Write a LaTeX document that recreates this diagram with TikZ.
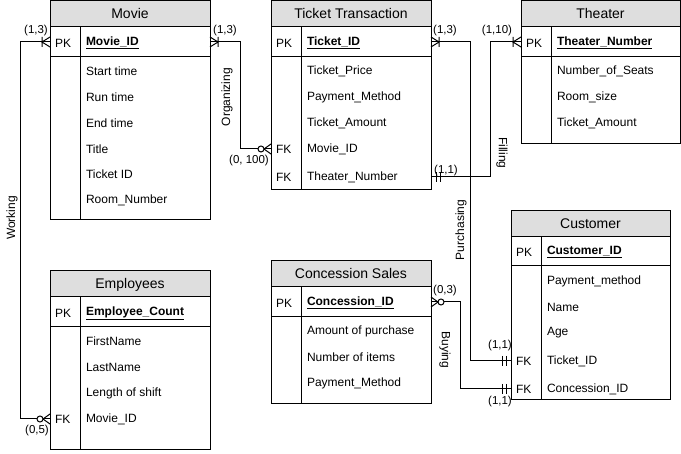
\documentclass[tikz,border=0pt]{standalone}
\usepackage{fontspec}
\setmainfont{Liberation Sans}
\begin{document}
\begin{tikzpicture}[x=1pt, y=-1pt, line width=1pt,
  every node/.style={inner sep=0pt, outer sep=0pt, font=\fontsize{12}{14}\selectfont},
  box/.style={draw, anchor=north west, minimum width=160pt},
  head/.style={box, fill=black!13, minimum height=26pt, text height=10pt, text depth=1pt, font=\fontsize{14}{16}\selectfont},
  attr/.style={anchor=west, yshift=-1pt},
  card/.style={font=\fontsize{11.5}{13}\selectfont},
  onemany/.pic={\draw (0,-5) -- (-8,0) -- (0,5) (-8,-5) -- (-8,5);},
  zeromany/.pic={\draw (0,-5) -- (-7,0) -- (0,5); \draw[fill=white] (-10,0) circle (3);},
  oneone/.pic={\draw (-5,-5) -- (-5,5) (-9,-5) -- (-9,5);}]
\fill[white] (0,0) rectangle (681,454);
\useasboundingbox (0,0) rectangle (681,454);

% Movie
\node[box, minimum height=219pt] (movie) at (50,1) {};
\node[head] (movie-h) at (50,1) {Movie};
\node[box, minimum height=30pt] (movie-pk) at (50,27) {};
\draw (80,27) -- (80,220);
\node[attr] (movie-k) at (55,42) {PK};
\node[attr] (movie-id) at (86,42) {\textbf{\underline{Movie\_ID}}};
\foreach \y/\t [count=\i] in {70/Start time, 96/Run time, 122/End time, 148/Title, 173/Ticket ID, 199/Room\_Number}
  \node[attr] (movie-\i) at (86,\y) {\t};

% Ticket Transaction
\node[box, minimum height=189pt] (tt) at (271,1) {};
\node[head] (tt-h) at (271,1) {Ticket Transaction};
\node[box, minimum height=30pt] (tt-pk) at (271,27) {};
\draw (301,27) -- (301,190);
\node[attr] (tt-k) at (276,42) {PK};
\node[attr] (tt-id) at (307,42) {\textbf{\underline{Ticket\_ID}}};
\foreach \y/\t [count=\i] in {70/Ticket\_Price, 96/Payment\_Method, 122/Ticket\_Amount, 148/Movie\_ID, 176/Theater\_Number}
  \node[attr] (tt-\i) at (307,\y) {\t};
\node[attr] (tt-fk1) at (276,148) {FK};
\node[attr] (tt-fk2) at (276,176) {FK};

% Theater
\node[box, minimum width=159pt, minimum height=143pt] (th) at (521,1) {};
\node[head, minimum width=159pt] (th-h) at (521,1) {Theater};
\node[box, minimum width=159pt, minimum height=30pt] (th-pk) at (521,27) {};
\draw (551,27) -- (551,144);
\node[attr] (th-k) at (526,42) {PK};
\node[attr] (th-id) at (557,42) {\textbf{\underline{Theater\_Number}}};
\foreach \y/\t [count=\i] in {70/Number\_of\_Seats, 96/Room\_size, 122/Ticket\_Amount}
  \node[attr] (th-\i) at (557,\y) {\t};

% Employees
\node[box, minimum height=179pt] (emp) at (50,271) {};
\node[head] (emp-h) at (50,271) {Employees};
\node[box, minimum height=30pt] (emp-pk) at (50,297) {};
\draw (80,297) -- (80,450);
\node[attr] (emp-k) at (55,312) {PK};
\node[attr] (emp-id) at (86,312) {\textbf{\underline{Employee\_Count}}};
\foreach \y/\t [count=\i] in {340/FirstName, 366/LastName, 392/Length of shift, 418/Movie\_ID}
  \node[attr] (emp-\i) at (86,\y) {\t};
\node[attr] (emp-fk) at (55,418) {FK};

% Concession Sales
\node[box, minimum height=143pt] (cs) at (271,261) {};
\node[head] (cs-h) at (271,261) {Concession Sales};
\node[box, minimum height=30pt] (cs-pk) at (271,287) {};
\draw (301,287) -- (301,404);
\node[attr] (cs-k) at (276,302) {PK};
\node[attr] (cs-id) at (307,302) {\textbf{\underline{Concession\_ID}}};
\foreach \y/\t [count=\i] in {330/Amount of purchase, 356/Number of items, 382/Payment\_Method}
  \node[attr] (cs-\i) at (307,\y) {\t};

% Customer
\node[box, minimum width=159pt, minimum height=189pt] (cust) at (511,211) {};
\node[head, minimum width=159pt] (cust-h) at (511,211) {Customer};
\node[box, minimum width=159pt, minimum height=29pt] (cust-pk) at (511,237) {};
\draw (541,237) -- (541,400);
\node[attr] (cust-k) at (516,251) {PK};
\node[attr] (cust-id) at (547,251) {\textbf{\underline{Customer\_ID}}};
\foreach \y/\t [count=\i] in {280/Payment\_method, 306/Name, 332/Age, 360/Ticket\_ID, 388/Concession\_ID}
  \node[attr] (cust-\i) at (547,\y) {\t};
\node[attr] (cust-fk1) at (516,360) {FK};
\node[attr] (cust-fk2) at (516,388) {FK};

% relationships
\draw (movie-pk.west) -- ++(-30,0) |- (emp.west |- emp-fk);
\draw (movie-pk.east) -- ++(30,0) |- (tt.west |- tt-fk1);
\draw (tt-pk.east) -- ++(39,0) |- (cust.west |- cust-fk1);
\draw (tt.east |- tt-fk2) -- ++(59,0) |- (th-pk.west);
\draw (cs-pk.east) -- ++(29,0) |- (cust.west |- cust-fk2);

\pic at (movie-pk.west) {onemany};
\pic at (emp.west |- emp-fk) {zeromany};
\pic[rotate=180] at (movie-pk.east) {onemany};
\pic at (tt.west |- tt-fk1) {zeromany};
\pic[rotate=180] at (tt-pk.east) {onemany};
\pic at (cust.west |- cust-fk1) {oneone};
\pic[rotate=180] at (tt.east |- tt-fk2) {oneone};
\pic at (th-pk.west) {onemany};
\pic[rotate=180] at (cs-pk.east) {zeromany};
\pic at (cust.west |- cust-fk2) {oneone};

% cardinalities
\node[card] (c1) at (36,31) {(1,3)};
\node[card] (c2) at (37,431) {(0,5)};
\node[card] (c3) at (225,31) {(1,3)};
\node[card] (c4) at (249,161) {(0, 100)};
\node[card] (c5) at (445,31) {(1,3)};
\node[card] (c6) at (497,31) {(1,10)};
\node[card] (c7) at (446,171) {(1,1)};
\node[card] (c8) at (445,291) {(0,3)};
\node[card] (c9) at (500,346) {(1,1)};
\node[card] (c10) at (500,402) {(1,1)};

% relationship names
\node[rotate=90] (r1) at (12,218) {Working};
\node[rotate=90] (r2) at (227,97) {Organizing};
\node[rotate=90] (r3) at (461,230) {Purchasing};
\node[rotate=-90] (r4) at (502,153) {Filling};
\node[rotate=-90] (r5) at (445,350) {Buying};
\end{tikzpicture}
\end{document}
